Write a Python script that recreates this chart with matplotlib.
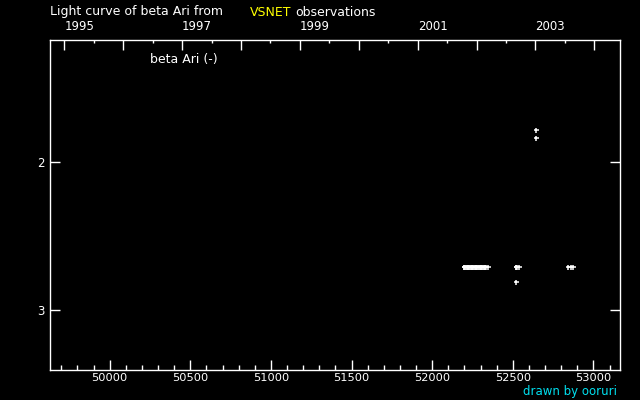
import numpy as np
import matplotlib
matplotlib.use('Agg')
import matplotlib.pyplot as plt

# JD - 2400000 and visual magnitude
jd = [52195, 52200, 52205, 52210, 52215, 52220, 52225, 52230, 52235, 52240,
      52245, 52250, 52255, 52260, 52265, 52270, 52275, 52280, 52285, 52290,
      52295, 52300, 52305, 52310, 52315, 52320, 52325, 52330, 52333, 52344,
      52519, 52522, 52526, 52539, 52519,
      52646, 52646,
      52844, 52861, 52875]
mag = [2.71] * 30 + [2.71, 2.71, 2.71, 2.71, 2.81] + [1.78, 1.835] + [2.71, 2.71, 2.71]

year_labels = ['1995', '', '1997', '', '1999', '', '2001', '', '2003', '']
year_jd = [49718.5, 50083.5, 50449.5, 50814.5, 51179.5, 51544.5,
           51910.5, 52275.5, 52640.5, 53005.5]

fig = plt.figure(figsize=(6.4, 4.0), dpi=100, facecolor='black')
ax = fig.add_axes([50/640, 30/400, 570/640, 329.7/400], facecolor='black')

ax.plot(jd, mag, '+', color='white', markersize=3.6, markeredgewidth=1.1)
ax.set_xlim(49630, 53165)
ax.set_ylim(3.403, 1.176)

for s in ax.spines.values():
    s.set_color('white')
    s.set_linewidth(1)

ax.set_xticks(range(50000, 53001, 500))
ax.set_xticks(range(49700, 53101, 100), minor=True)
ax.set_yticks([2, 3])
ax.set_yticklabels(['2', '3'])
ax.tick_params(axis='x', which='major', direction='in', length=7.2, width=1,
               color='white', labelcolor='white', labelsize=8.2, pad=2)
ax.tick_params(axis='x', which='minor', direction='in', length=3.6, width=1, color='white')
ax.tick_params(axis='y', which='major', direction='in', length=7.2, width=1,
               color='white', labelcolor='white', labelsize=8.5, pad=4,
               left=True, right=True)
ax.xaxis.set_major_formatter(matplotlib.ticker.FuncFormatter(lambda v, p: '%d' % v))

top = ax.twiny()
top.set_xlim(ax.get_xlim())
top.set_xticks(year_jd)
top.set_xticklabels(year_labels, ha='left')
mids = [(a + b) / 2 for a, b in zip(year_jd[:-1], year_jd[1:])]
top.set_xticks(mids, minor=True)
top.tick_params(axis='x', which='major', direction='in', length=7.2, width=1,
                color='white', labelcolor='white', labelsize=8.5, pad=5)
top.tick_params(axis='x', which='minor', direction='in', length=2.2, width=1, color='white')
for s in top.spines.values():
    s.set_visible(False)

fig.text(50/640, 1 - 12/400, 'Light curve of beta Ari from', color='white',
         fontsize=9, va='center', ha='left')
fig.text(250/640, 1 - 12/400, 'VSNET', color='yellow', fontsize=9, va='center', ha='left')
fig.text(295/640, 1 - 12/400, 'observations', color='white', fontsize=9, va='center', ha='left')
fig.text(150/640, 1 - 60/400, 'beta Ari (-)', color='white', fontsize=9, va='center', ha='left')
fig.text(617/640, 1 - 395/400, 'drawn by ooruri', color='#00e0f0', fontsize=8.5,
         va='baseline', ha='right')

fig.savefig('out.png', dpi=100, facecolor='black')
